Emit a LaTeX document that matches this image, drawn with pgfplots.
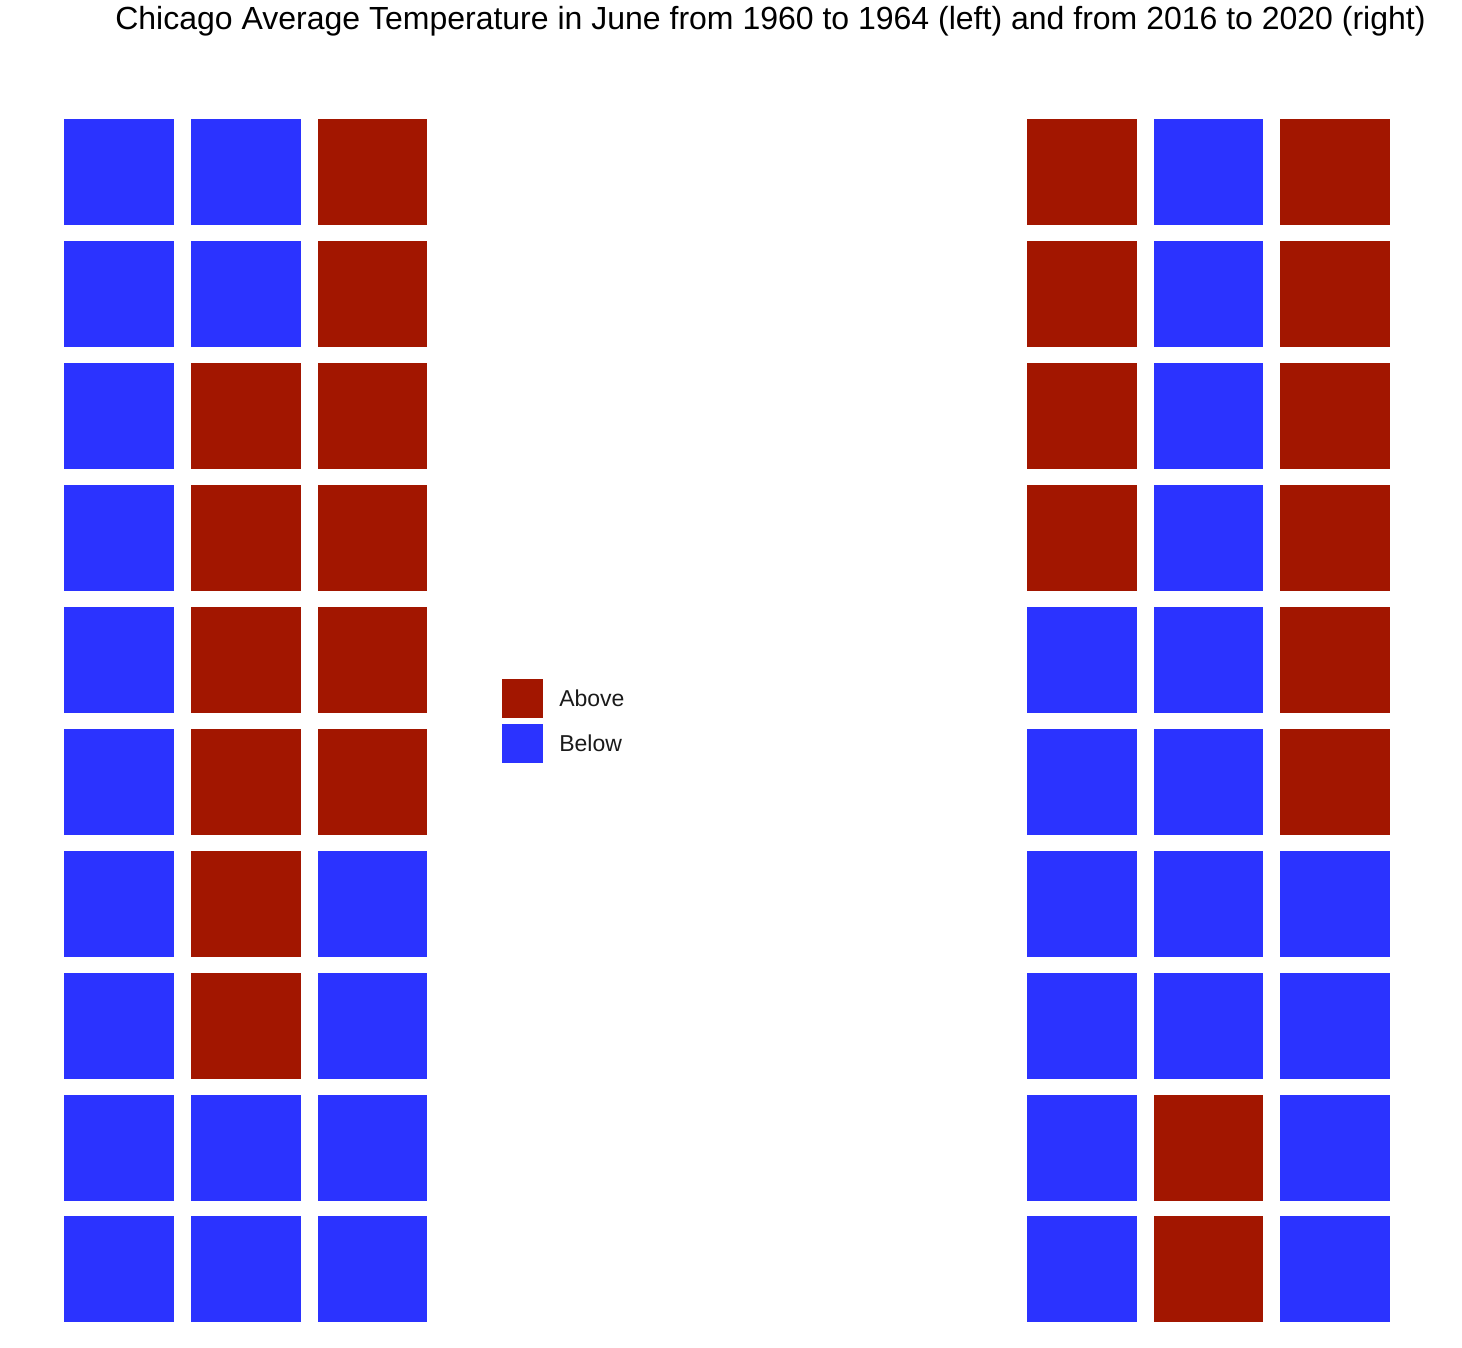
\documentclass[border=0pt]{standalone}
\usepackage{pgfplots}
\usepackage{pgfplotstable}
\pgfplotsset{compat=1.18}
\usepackage{fontspec}
\setmainfont{Liberation Sans}
\definecolor{abovered}{RGB}{162,22,0}
\definecolor{belowblue}{RGB}{43,51,255}
\definecolor{txt}{RGB}{26,26,26}

% cell centres in picture units (x: column, y: row from top)
\pgfplotstableread{
x y
372.5 172.2
372.5 294.1
245.8 416.0
372.5 416.0
245.8 537.9
372.5 537.9
245.8 659.8
372.5 659.8
245.8 781.7
372.5 781.7
245.8 903.6
245.8 1025.5
1082 172.2
1335 172.2
1082 294.1
1335 294.1
1082 416.0
1335 416.0
1082 537.9
1335 537.9
1335 659.8
1335 781.7
1208.5 1147.4
1208.5 1269.3
}\abovetab

\pgfplotstableread{
x y
118.8 172.2
118.8 294.1
118.8 416.0
118.8 537.9
118.8 659.8
118.8 781.7
118.8 903.6
118.8 1025.5
118.8 1147.4
118.8 1269.3
245.8 172.2
245.8 294.1
245.8 1147.4
245.8 1269.3
372.5 903.6
372.5 1025.5
372.5 1147.4
372.5 1269.3
1208.5 172.2
1208.5 294.1
1208.5 416.0
1208.5 537.9
1208.5 659.8
1208.5 781.7
1208.5 903.6
1208.5 1025.5
1082 659.8
1082 781.7
1082 903.6
1082 1025.5
1082 1147.4
1082 1269.3
1335 903.6
1335 1025.5
1335 1147.4
1335 1269.3
}\belowtab

\begin{document}
\begin{tikzpicture}
\begin{axis}[
  width=731bp, height=674bp, scale only axis,
  xmin=0, xmax=1462, ymin=0, ymax=1348, y dir=reverse,
  hide axis, clip=false,
  legend style={draw=none, fill=none, at={(axis cs:501.7,679.3)}, anchor=north west,
    inner sep=0pt, outer sep=0pt, row sep=2.85bp, column sep=8.4bp,
    font=\fontsize{11.5bp}{14bp}\selectfont\color{txt},
    nodes={inner sep=0pt, outer sep=0pt}},
  legend cell align=left,
]
\addplot[only marks, mark=square*, color=abovered, mark size=27.28pt,
  mark options={yscale=0.966},
  legend image code/.code={\fill[abovered] (0bp,-8.8bp) rectangle (20bp,10.2bp);}]
  table[x=x,y=y] {\abovetab};
\addlegendentry{Above}
\addplot[only marks, mark=square*, color=belowblue, mark size=27.28pt,
  mark options={yscale=0.966},
  legend image code/.code={\fill[belowblue] (0bp,-8.8bp) rectangle (20bp,10.2bp);}]
  table[x=x,y=y] {\belowtab};
\addlegendentry{Below}
\node[anchor=base, inner sep=0pt, font=\fontsize{16bp}{19bp}\selectfont] at (axis cs:770.5,29) {Chicago Average Temperature in June from 1960 to 1964 (left) and from 2016 to 2020 (right)};
\end{axis}
\pgfresetboundingbox
\path[use as bounding box] (0,0) rectangle (731bp,674bp);
\end{tikzpicture}
\end{document}
